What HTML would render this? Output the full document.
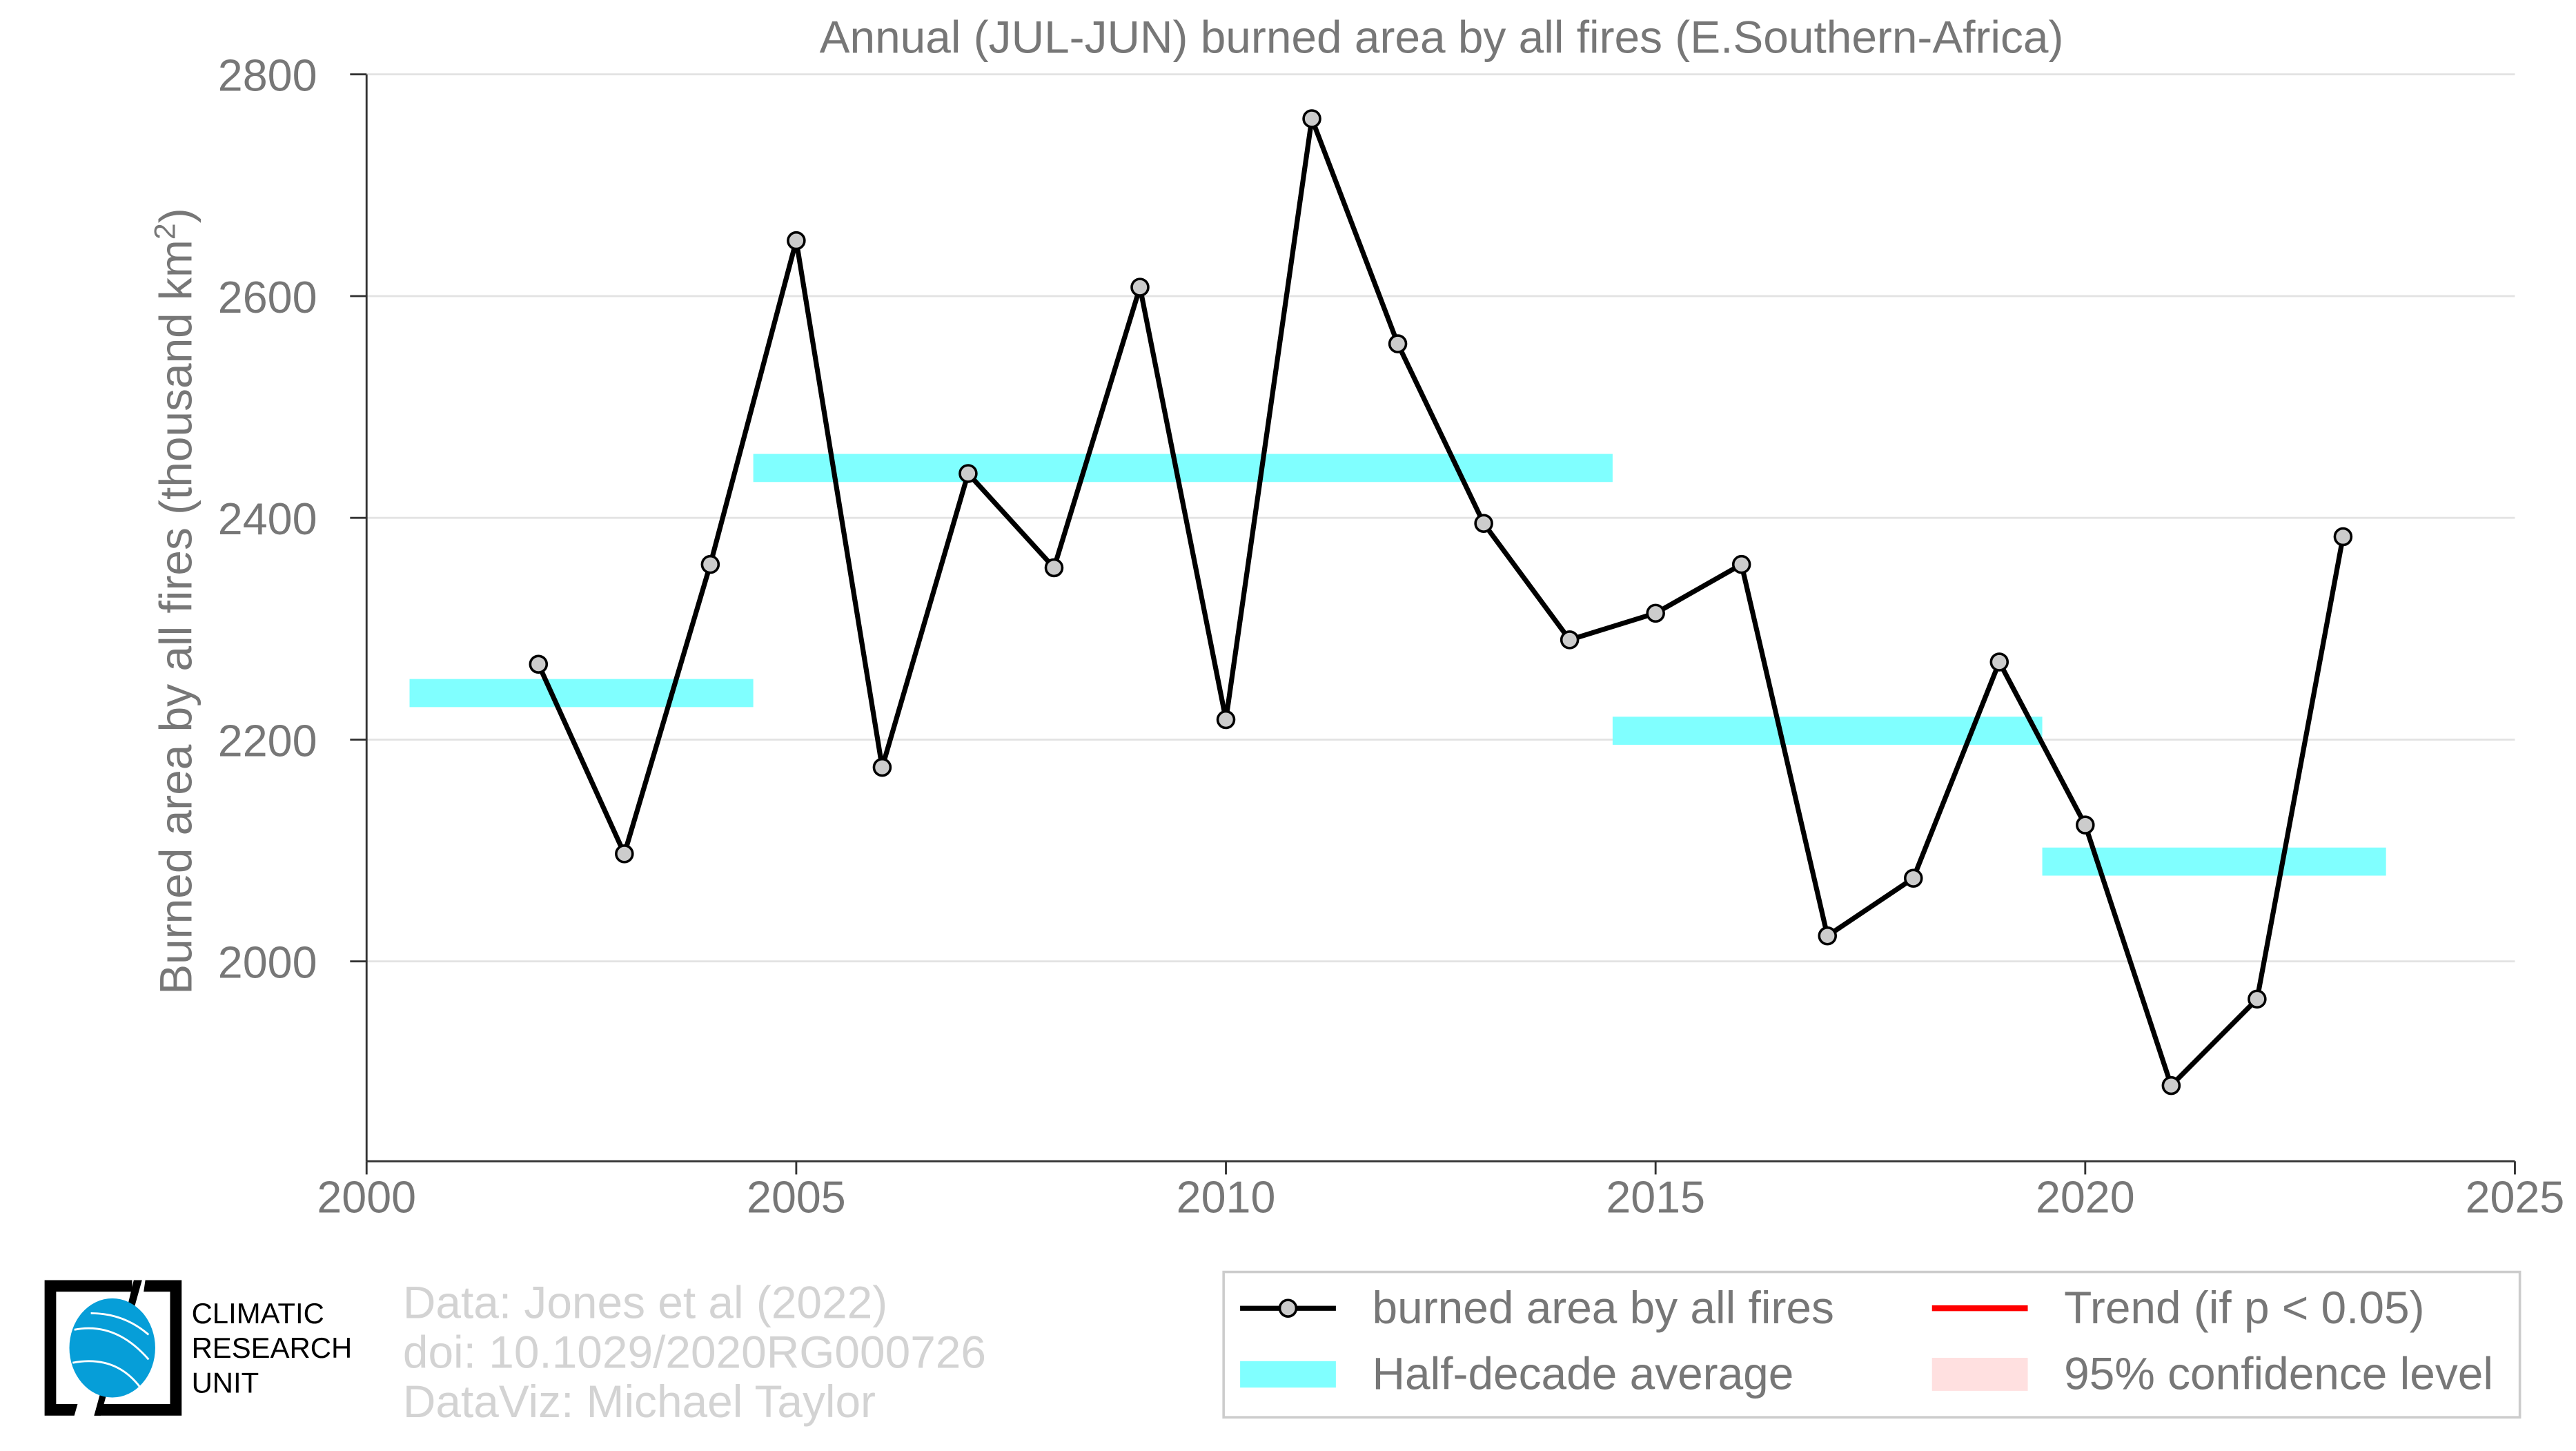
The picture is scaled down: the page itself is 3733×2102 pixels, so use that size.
<!DOCTYPE html>
<html><head><meta charset="utf-8"><style>
html,body{margin:0;padding:0;background:#fff;}
svg{display:block;font-family:"Liberation Sans",sans-serif;}
</style></head><body>
<svg id="chart" width="3733" height="2102" viewBox="0 0 1560 878.4" xmlns="http://www.w3.org/2000/svg">
<text x="873" y="32" text-anchor="middle" font-size="27.5" fill="#777">Annual (JUL-JUN) burned area by all fires (E.Southern-Africa)</text>
<g id="grid"></g>
<g id="bars"></g>
<g id="series"></g>
<g id="axes"></g>
<text transform="translate(116,364) rotate(-90)" text-anchor="middle" font-size="27.5" fill="#777">Burned area by all fires (thousand km<tspan dy="-10" font-size="18">2</tspan><tspan dy="10">)</tspan></text>

<g>
<path d="M27,775 L80,775 L80,782 L34,782 L34,850 L47,850 L45,857 L27,857 Z" fill="#000"/>
<path d="M88,775 L110,775 L110,857 L57,857 L59,850 L103,850 L103,782 L87,782 Z" fill="#000"/>
<path d="M81,775 L86,775 L79,800 L75,800 Z M63,835 L67,835 L61,857 L57,857 Z" fill="#000"/>
<ellipse cx="68" cy="816" rx="26" ry="30" fill="#069ed8"/>
<path d="M45,805 Q70,800 90,823 M44,825 Q70,820 85,840 M55,795 Q75,795 90,808" stroke="#fff" stroke-width="1.2" fill="none"/>
<text x="116" y="801" font-size="17.5" fill="#000">CLIMATIC</text>
<text x="116" y="822" font-size="17.5" fill="#000">RESEARCH</text>
<text x="116" y="843" font-size="17.5" fill="#000">UNIT</text>
</g>
<g font-size="27.5" fill="#d3d3d3">
<text x="244" y="798">Data: Jones et al (2022)</text>
<text x="244" y="828">doi: 10.1029/2020RG000726</text>
<text x="244" y="858">DataViz: Michael Taylor</text>
</g>
<g>
<rect x="741" y="770" width="785" height="88" fill="#fff" stroke="#ccc" stroke-width="1.5"/>
<g>
<line x1="751" y1="792" x2="809" y2="792" stroke="#000" stroke-width="3"/>
<circle cx="780" cy="792" r="5" fill="#ccc" stroke="#000" stroke-width="1.5"/>
<text x="831" y="801" font-size="27.5" fill="#777">burned area by all fires</text></g>
<g>
<rect x="751" y="824" width="58" height="16" fill="#80ffff"/>
<text x="831" y="841" font-size="27.5" fill="#777">Half-decade average</text></g>
<g>
<line x1="1170" y1="792" x2="1228" y2="792" stroke="#f00" stroke-width="3.5"/>
<text x="1250" y="801" font-size="27.5" fill="#777">Trend (if p &lt; 0.05)</text></g>
<g>
<rect x="1170" y="822" width="58" height="20" fill="#ffe0e0"/>
<text x="1250" y="841" font-size="27.5" fill="#777">95% confidence level</text></g>
</g>
</svg>
<script>
const years=[2002,2003,2004,2005,2006,2007,2008,2009,2010,2011,2012,2013,2014,2015,2016,2017,2018,2019,2020,2021,2022,2023];
const values=[2268,2097,2358,2650,2175,2440,2355,2608,2218,2760,2557,2395,2290,2314,2358,2023,2075,2270,2123,1888,1966,2383];
const halfStart=[2000.5,2004.5,2014.5,2019.5];
const halfEnd=[2004.5,2014.5,2019.5,2023.5];
const halfValues=[2242,2445,2208,2090];
const yTicks=[2000,2200,2400,2600,2800];
const xTicks=[2000,2005,2010,2015,2020,2025];
const NS='http://www.w3.org/2000/svg';
const X=v=>222+(v-2000)*(1523-222)/25;
const Y=v=>582-(v-2000)*(582-45)/800;
function mk(t,a,p){const e=document.createElementNS(NS,t);for(const k in a)e.setAttribute(k,a[k]);p.appendChild(e);return e;}
const grid=document.getElementById('grid'),axes=document.getElementById('axes'),bars=document.getElementById('bars'),ser=document.getElementById('series');
yTicks.forEach(t=>{
 const g=mk('line',{x1:222,x2:1523,y1:Y(t),y2:Y(t),stroke:'#e3e3e3','stroke-width':1.2},grid);
 
 
 const tk=mk('line',{x1:212,x2:222,y1:Y(t),y2:Y(t),stroke:'#333','stroke-width':1.2},axes);
 
 
 const l=mk('text',{x:162,y:Y(t)+10,'text-anchor':'middle','font-size':27,fill:'#777'},axes);l.textContent=t;
 
 
});
const ya=mk('line',{x1:222,x2:222,y1:Y(2800),y2:703,stroke:'#333','stroke-width':1.2},axes);


const xa=mk('line',{x1:222,x2:1523,y1:703,y2:703,stroke:'#333','stroke-width':1.2},axes);


xTicks.forEach(t=>{
 const tk=mk('line',{x1:X(t),x2:X(t),y1:703,y2:711,stroke:'#333','stroke-width':1.2},axes);
 
 
 const l=mk('text',{x:X(t),y:734,'text-anchor':'middle','font-size':27,fill:'#777'},axes);l.textContent=t;
 
 
});
halfValues.forEach((v,i)=>{
 const r=mk('rect',{x:X(halfStart[i]),width:X(halfEnd[i])-X(halfStart[i]),y:Y(v)-8.5,height:17,fill:'#80ffff'},bars);
 
 
});
const pl=mk('polyline',{points:years.map((y,i)=>X(y)+','+Y(values[i])).join(' '),fill:'none',stroke:'#000','stroke-width':3,'stroke-linejoin':'round'},ser);


years.forEach((y,i)=>{
 const c=mk('circle',{cx:X(y),cy:Y(values[i]),r:5,fill:'#ccc',stroke:'#000','stroke-width':1.5},ser);
 
 
});
</script>
</body></html>
